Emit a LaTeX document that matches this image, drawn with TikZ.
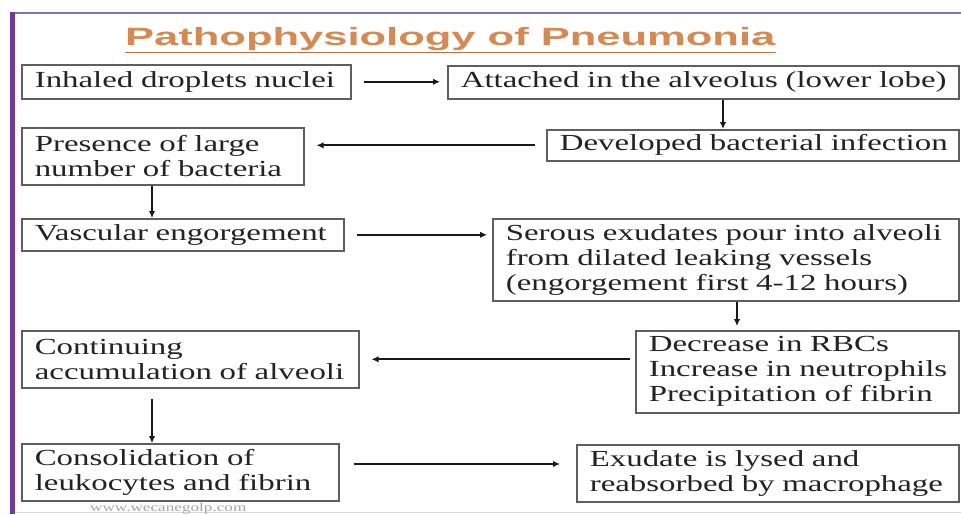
\documentclass[tikz,border=0pt]{standalone}
\usepackage{fontspec}
\setmainfont{Liberation Serif}[FakeStretch=1.43]
\newfontfamily\titlefont{Liberation Sans}[FakeStretch=1.74]
\usetikzlibrary{arrows.meta}
\definecolor{titlec}{RGB}{212,138,82}
\definecolor{framepurple}{RGB}{112,58,150}
\definecolor{topline}{RGB}{135,110,185}
\definecolor{boxline}{RGB}{95,95,95}
\definecolor{txt}{RGB}{35,35,35}
\definecolor{arrowc}{RGB}{25,25,25}
\begin{document}
\begin{tikzpicture}[x=1pt,y=-1pt,
  box/.style={draw=boxline, line width=1.6pt, fill=white, anchor=north west,
    inner xsep=13pt, inner ysep=0pt, align=left, text=txt,
    font=\fontsize{23}{25}\selectfont},
  arr/.style={draw=arrowc, line width=2.3pt, -{Latex[length=7pt,width=6.5pt]}}]
\useasboundingbox (0,0) rectangle (961,514);
\fill[white] (0,0) rectangle (961,514);
% frame
\draw[topline, line width=2.5pt] (10,13) -- (961,13);
\draw[framepurple, line width=4.5pt] (12.5,11.75) -- (12.5,514);
\draw[gray!30, line width=1pt] (15,512.5) -- (961,512.5);
% title
\node[font=\titlefont\bfseries\fontsize{25}{30}\selectfont, text=titlec,
  anchor=base west, inner sep=0pt] (title) at (125,45) {Pathophysiology of Pneumonia};
\draw[titlec!85!black, line width=1.2pt] ([yshift=-2pt]title.south west) -- ([yshift=-2pt]title.south east);
% boxes
\node[box, minimum width=329pt, minimum height=34pt, text width=303pt] (b1) at (21,64)
  {\mbox{Inhaled droplets nuclei}};
\node[box, minimum width=511pt, minimum height=33pt, text width=485pt] (b2) at (447,65)
  {\mbox{Attached in the alveolus (lower lobe)}};
\node[box, minimum width=412pt, minimum height=31pt, text width=386pt] (b3) at (546,129)
  {\mbox{Developed bacterial infection}};
\node[box, minimum width=282pt, minimum height=57pt, text width=256pt] (b4) at (21,127)
  {\mbox{Presence of large}\\\mbox{number of bacteria}};
\node[box, minimum width=322pt, minimum height=32pt, text width=296pt] (b5) at (21,218)
  {\mbox{Vascular engorgement}};
\node[box, minimum width=466pt, minimum height=82pt, text width=440pt] (b6) at (492,218)
  {\mbox{Serous exudates pour into alveoli}\\\mbox{from dilated leaking vessels}\\\mbox{(engorgement first 4-12 hours)}};
\node[box, minimum width=323pt, minimum height=82pt, text width=297pt] (b7) at (635,330)
  {\mbox{Decrease in RBCs}\\\mbox{Increase in neutrophils}\\\mbox{Precipitation of fibrin}};
\node[box, minimum width=337pt, minimum height=57pt, text width=311pt] (b8) at (21,330)
  {\mbox{Continuing}\\\mbox{accumulation of alveoli}};
\node[box, minimum width=317pt, minimum height=57pt, text width=291pt] (b9) at (21,443)
  {\mbox{Consolidation of}\\\mbox{leukocytes and fibrin}};
\node[box, minimum width=382pt, minimum height=57pt, text width=356pt] (b10) at (576,444)
  {\mbox{Exudate is lysed and}\\\mbox{reabsorbed by macrophage}};
% watermark
\node[font=\fontsize{12}{14}\selectfont, text=gray!70, anchor=base west, inner sep=0pt] (wm)
  at (90,511) {www.wecanegolp.com};
% helper coordinates
\coordinate (c723) at (723,0);
\coordinate (c152) at (152,0);
\coordinate (c737) at (737,0);
\coordinate (c464) at (0,464);
% arrows
\draw[arr, shorten <=12pt, shorten >=7pt] (b1.east) -- (b1.east -| b2.west);
\draw[arr] (b2.south -| c723) -- (b3.north -| c723);
\draw[arr, shorten <=11pt, shorten >=12pt] (b3.west) -- (b3.west -| b4.east);
\draw[arr] (b4.south -| c152) -- (b5.north -| c152);
\draw[arr, shorten <=12pt, shorten >=5pt] (b5.east) -- (b5.east -| b6.west);
\draw[arr, shorten >=4pt] (b6.south -| c737) -- (b7.north -| c737);
\draw[arr, shorten <=5pt, shorten >=12pt] (b7.west |- b8.east) -- (b8.east);
\draw[arr, shorten <=10pt] (b8.south -| c152) -- (b9.north -| c152);
\draw[arr, shorten <=14pt, shorten >=16pt] (b9.east |- c464) -- (b10.west |- c464);
\end{tikzpicture}
\end{document}
